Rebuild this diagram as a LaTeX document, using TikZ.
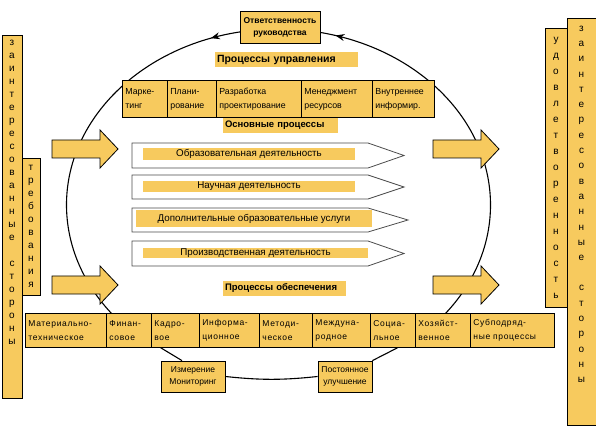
\documentclass[tikz,border=0pt]{standalone}
\usepackage{fontspec}
\setmainfont{Liberation Sans}
\usetikzlibrary{positioning,calc,arrows.meta,decorations.markings}
\definecolor{boxyel}{RGB}{247,202,94}

\begin{document}
\begin{tikzpicture}[x=1pt,y=1pt,font=\fontsize{8.5}{10}\selectfont,
  yel/.style={draw=black,line width=0.8pt,fill=boxyel},
  cell/.style={yel,anchor=north west,inner xsep=3pt,inner ysep=0pt,align=left},
  vtxt/.style={align=center,inner sep=0pt,font=\fontsize{10}{13}\selectfont},
  lbl/.style={fill=boxyel,inner xsep=2pt,inner ysep=0pt,align=left,font=\bfseries\fontsize{9.5}{11}\selectfont},
  bar/.style={fill=boxyel,inner sep=0pt,font=\fontsize{9.8}{11}\selectfont},
  pent/.style={draw=black!70,line width=0.8pt,fill=white},
  loopline/.style={line width=1.1pt,black},
  markarrow/.style={postaction={decorate},decoration={markings,
    mark=at position #1 with {\arrow{Stealth[length=9pt,width=7pt]}}}},
  bigarrow/.pic={\draw[yel] (0,-9) -- (48,-9) -- (48,-19) -- (66,0) -- (48,19) -- (48,9) -- (0,9) -- cycle;}]
\useasboundingbox (0,0) rectangle (596,431);

% the management cycle
\coordinate (ctr) at (278.5,226);
\draw[loopline,markarrow=50pt] ($(ctr)+(95:212pt and 176pt)$)
  arc[start angle=95,end angle=225,x radius=212pt,y radius=176pt];
\draw[loopline,markarrow=-39pt] ($(ctr)+(-45:212pt and 176pt)$)
  arc[start angle=-45,end angle=85,x radius=212pt,y radius=176pt];

% inputs and outputs
\pic at (52,282) {bigarrow};
\pic at (52,146) {bigarrow};
\pic at (433,282) {bigarrow};
\pic at (433,146) {bigarrow};

\node[yel,minimum width=80,minimum height=32,align=center,
  font=\bfseries\fontsize{8.5}{12}\selectfont] (resp) at (280,404) {Ответственность\\руководства};

\node[lbl,text width=139,minimum height=15,font=\bfseries\fontsize{10.5}{12}\selectfont] (mgmt) at (286.5,371.5) {Процессы управления};
\node[lbl,text width=111,minimum height=15] (core) at (280.5,305.5) {Основные процессы};
\node[lbl,text width=119,minimum height=14] (supp) at (284.5,142.5) {Процессы обеспечения};

% management processes
\foreach \xa/\xb/\nm/\txt in {122/167/mark/{Марке-\\тинг},167/216/plan/{Плани-\\рование},
    216/301/dev/{Разработка\\проектирование},301/372/res/{Менеджмент\\ресурсов},
    372/434/info/{Внутреннее\\информир.}}
  \node[cell,minimum height=37,text width={\xb-\xa-6},font=\fontsize{8.8}{14}\selectfont] (\nm) at (\xa,351) {\txt};

% core processes
\foreach \yt/\yb/\tip/\bl/\br/\by/\bh/\nm/\txt in {288/263/404/143/355/277/12/edu/Образовательная деятельность,
    256/232/404/143/355/244.5/11/sci/Научная деятельность,
    223/199/408/136/372/212.5/17/extra/Дополнительные образовательные услуги,
    190/165/404/143/368/178/10/prod/Производственная деятельность}
{
  \draw[pent] (132,\yt) -- (368,\yt) -- (\tip,{(\yt+\yb)/2}) -- (368,\yb) -- (132,\yb) -- cycle;
  \node[bar,minimum width={\br-\bl},minimum height=\bh] (\nm) at ({(\bl+\br)/2},\by) {\txt};
}

% supporting processes
\foreach \xa/\xb/\nm/\txt in {25/106/mat/{Материально-\\техническое},106/151/fin/{Финан-\\совое},
    151/199/kadr/{Кадро-\\вое},199/259/inf/{Информа-\\ционное},259/312/met/{Методи-\\ческое},
    312/370/mezh/{Междуна-\\родное},370/415/soc/{Социа-\\льное},415/470/hoz/{Хозяйст-\\венное},
    470/554/sub/{Субподряд-\\ные процессы}}
  \node[cell,minimum height=34,text width={\xb-\xa-6},
    font=\fontsize{8.5}{14}\selectfont\addfontfeatures{LetterSpace=8}] (\nm) at (\xa,118) {\txt};

\node[yel,minimum width=64,minimum height=31,align=center,font=\fontsize{8.5}{12}\selectfont]
  (meas) at (193,54.5) {Измерение\\Мониторинг};
\node[yel,minimum width=54,minimum height=31,align=center,font=\fontsize{8.5}{12}\selectfont]
  (impr) at (345,54.5) {Постоянное\\улучшение};
\draw[loopline] ($(kadr.south west)!.2!(kadr.south east)$) -- ($(meas.north west)!.33!(meas.north east)$);
\draw[loopline] (meas.east) to[bend right=6] (impr.west);
\draw[loopline] (impr.north east) -- ($(soc.south west)!.6!(soc.south east)$);

% stakeholders
\node[yel,minimum width=20,minimum height=363] (partL) at (12,214.5) {};
\node[vtxt,anchor=north] (partLtxt) at ($(partL.north)+(0,-5)$)
  {з\\а\\и\\н\\т\\е\\р\\е\\с\\о\\в\\а\\н\\н\\ы\\е\\[13pt]с\\т\\о\\р\\о\\н\\ы};
\node[yel,vtxt,minimum width=18,minimum height=137] (req) at (31,204.5)
  {т\\р\\е\\б\\о\\в\\а\\н\\и\\я};
\node[yel,vtxt,minimum width=22,minimum height=279,font=\fontsize{10}{16}\selectfont] (satisf) at (556,263.5)
  {у\\д\\о\\в\\л\\е\\т\\в\\о\\р\\е\\н\\н\\о\\с\\т\\ь};
\node[yel,minimum width=29,minimum height=407] (partR) at (581.5,209.5) {};
\node[vtxt,anchor=north,font=\fontsize{10}{15.3}\selectfont] (partRtxt) at ($(partR.north)+(0,-8)$)
  {з\\а\\и\\н\\т\\е\\р\\е\\с\\о\\в\\а\\н\\н\\ы\\е\\[15pt]с\\т\\о\\р\\о\\н\\ы};
\end{tikzpicture}
\end{document}
